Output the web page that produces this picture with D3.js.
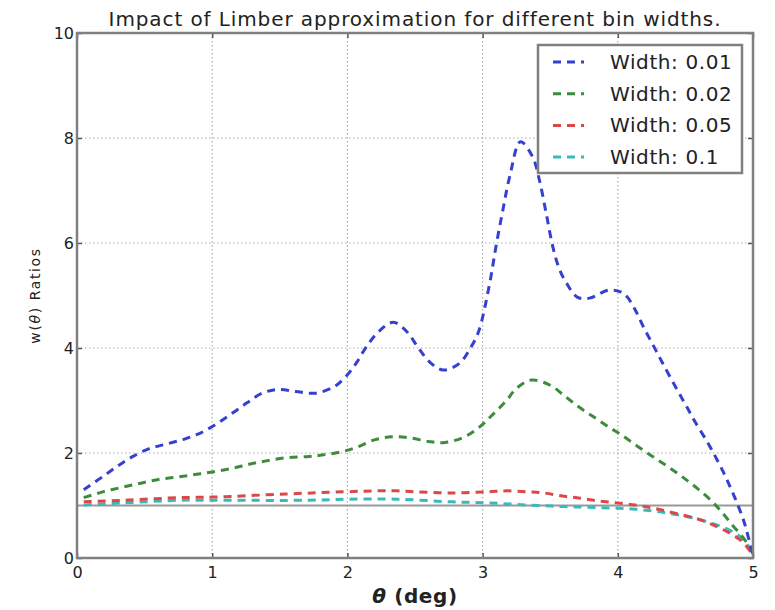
<!DOCTYPE html>
<html>
<head>
<meta charset="utf-8">
<script src="https://cdn.jsdelivr.net/npm/d3@7"></script>
<style>
  body { margin: 0; background: #fff; }
  text { font-family: "DejaVu Sans", sans-serif; fill: #222; }
</style>
</head>
<body>
<div id="chart"></div>
<script>
var svgWidth = 775;
var svgHeight = 610;

var margin = { top: 33, right: 22, bottom: 52, left: 77 };
var width = svgWidth - margin.left - margin.right;
var height = svgHeight - margin.top - margin.bottom;

// data
var seriesNames = ["Width: 0.01", "Width: 0.02", "Width: 0.05", "Width: 0.1"];
var seriesColors = ["#3440d0", "#3d8c3d", "#dc4848", "#38baba"];

var thetaW001 = [0.05,0.19,0.30,0.41,0.53,0.66,0.80,0.92,1.03,1.15,1.26,1.37,1.49,1.62,1.76,1.90,2.0,2.07,2.14,2.23,2.34,2.44,2.52,2.61,2.71,2.83,2.91,2.97,3.05,3.10,3.15,3.20,3.28,3.37,3.42,3.47,3.52,3.57,3.62,3.70,3.79,3.93,4.02,4.07,4.13,4.19,4.26,4.33,4.44,4.51,4.57,4.66,4.72,4.78,4.83,4.88,4.93,4.96,5.0];
var ratioW001 = [1.3,1.55,1.75,1.93,2.08,2.17,2.27,2.39,2.55,2.76,2.96,3.14,3.21,3.17,3.14,3.26,3.49,3.73,4.02,4.31,4.49,4.31,4.02,3.73,3.58,3.71,4.0,4.31,5.2,5.95,6.63,7.26,7.93,7.64,7.2,6.57,5.92,5.49,5.24,4.97,4.95,5.10,5.07,4.97,4.72,4.40,4.06,3.72,3.2,2.88,2.6,2.22,1.94,1.64,1.36,1.06,0.72,0.45,0.05];

var thetaW002 = [0.05,0.19,0.34,0.48,0.61,0.74,0.87,1.0,1.15,1.28,1.40,1.55,1.70,1.81,1.95,2.07,2.20,2.33,2.46,2.60,2.72,2.86,2.98,3.07,3.17,3.25,3.36,3.50,3.60,3.71,3.82,3.93,4.03,4.15,4.26,4.37,4.48,4.59,4.70,4.78,4.85,4.92,4.98,5.0];
var ratioW002 = [1.15,1.26,1.35,1.43,1.50,1.54,1.59,1.64,1.71,1.79,1.85,1.91,1.93,1.96,2.02,2.11,2.25,2.31,2.29,2.22,2.2,2.3,2.5,2.72,2.98,3.23,3.39,3.29,3.10,2.88,2.69,2.5,2.34,2.12,1.93,1.74,1.54,1.32,1.07,0.84,0.62,0.41,0.2,0.1];

var thetaW005 = [0.05,0.35,0.76,1.0,1.55,1.97,2.23,2.36,2.50,2.77,3.04,3.18,3.33,3.45,3.59,3.72,3.85,3.99,4.13,4.26,4.38,4.51,4.62,4.74,4.85,4.93,5.0];
var ratioW005 = [1.07,1.1,1.15,1.16,1.22,1.26,1.28,1.28,1.26,1.24,1.26,1.28,1.26,1.24,1.18,1.14,1.09,1.05,1.01,0.95,0.88,0.80,0.72,0.59,0.44,0.29,0.05];

var thetaW01 = [0.05,0.35,0.76,1.0,1.7,2.0,2.36,2.77,3.04,3.33,3.6,3.87,4.13,4.38,4.62,4.85,4.95,5.0];
var ratioW01 = [1.01,1.05,1.1,1.1,1.1,1.12,1.12,1.07,1.05,1.01,0.98,0.96,0.93,0.85,0.72,0.5,0.29,0.05];

var xTicks = [0, 1, 2, 3, 4, 5];
var yTicks = [0, 2, 4, 6, 8, 10];

var allTheta = [thetaW001, thetaW002, thetaW005, thetaW01];
var allRatio = [ratioW001, ratioW002, ratioW005, ratioW01];

var series = seriesNames.map(function (name, i) {
    return {
        name: name,
        color: seriesColors[i],
        points: allTheta[i].map(function (t, j) { return { theta: t, ratio: allRatio[i][j] }; })
    };
});

var svg = d3.select("#chart")
    .append("svg")
    .attr("width", svgWidth)
    .attr("height", svgHeight);

var chartGroup = svg.append("g")
    .attr("transform", `translate(${margin.left}, ${margin.top})`);

var xScale = d3.scaleLinear().domain([0, 5]).range([0, width]);
var yScale = d3.scaleLinear().domain([0, 10]).range([height, 0]);

// dotted grid
chartGroup.append("g")
    .selectAll("line")
    .data(xTicks.slice(1, -1))
    .enter().append("line")
    .attr("x1", d => xScale(d)).attr("x2", d => xScale(d))
    .attr("y1", 0).attr("y2", height)
    .attr("stroke", "#aaa").attr("stroke-width", 1.2)
    .attr("stroke-dasharray", "1.5,2.5");

chartGroup.append("g")
    .selectAll("line")
    .data(yTicks.slice(1, -1))
    .enter().append("line")
    .attr("x1", 0).attr("x2", width)
    .attr("y1", d => yScale(d)).attr("y2", d => yScale(d))
    .attr("stroke", "#aaa").attr("stroke-width", 1.2)
    .attr("stroke-dasharray", "1.5,2.5");

// reference line at ratio 1
chartGroup.append("line")
    .attr("x1", 0).attr("x2", width)
    .attr("y1", yScale(1)).attr("y2", yScale(1))
    .attr("stroke", "#999").attr("stroke-width", 2.2);

var line = d3.line()
    .x(d => xScale(d.theta))
    .y(d => yScale(d.ratio))
    .curve(d3.curveCatmullRom.alpha(0.5));

chartGroup.selectAll(".series")
    .data(series.slice().reverse())
    .enter().append("path")
    .attr("class", "series")
    .attr("d", d => line(d.points))
    .attr("fill", "none")
    .attr("stroke", d => d.color)
    .attr("stroke-width", 3)
    .attr("stroke-dasharray", "8,6");

// axes with inward ticks on all four sides
function styleAxis(g) {
    g.select(".domain").remove();
    g.selectAll(".tick line").attr("stroke", "#555").attr("stroke-width", 1.5);
    g.selectAll(".tick text").style("font-size", "16px").attr("fill", "#222");
}

chartGroup.append("g")
    .attr("transform", `translate(0, ${height})`)
    .call(d3.axisBottom(xScale).tickValues(xTicks).tickSize(-5).tickPadding(9).tickFormat(d3.format("d")))
    .call(styleAxis);

chartGroup.append("g")
    .call(d3.axisTop(xScale).tickValues(xTicks).tickSize(-5).tickFormat(""))
    .call(styleAxis);

chartGroup.append("g")
    .call(d3.axisLeft(yScale).tickValues(yTicks).tickSize(-5).tickPadding(3).tickFormat(d3.format("d")))
    .call(styleAxis);

chartGroup.append("g")
    .attr("transform", `translate(${width}, 0)`)
    .call(d3.axisRight(yScale).tickValues(yTicks).tickSize(-5).tickFormat(""))
    .call(styleAxis);

// frame
chartGroup.append("rect")
    .attr("x", 0).attr("y", 0)
    .attr("width", width).attr("height", height)
    .attr("fill", "none")
    .attr("stroke", "#808080")
    .attr("stroke-width", 2.5);

// title and labels
svg.append("text")
    .attr("x", margin.left + width / 2)
    .attr("y", 26)
    .attr("text-anchor", "middle")
    .style("font-size", "20px")
    .style("letter-spacing", "0.9px")
    .text("Impact of Limber approximation for different bin widths.");

var xLabel = svg.append("text")
    .attr("x", margin.left + width / 2)
    .attr("y", 603)
    .attr("text-anchor", "middle")
    .style("font-size", "20px")
    .style("font-weight", "bold")
    .style("letter-spacing", "0.6px");
xLabel.append("tspan").style("font-style", "italic").text("θ");
xLabel.append("tspan").text(" (deg)");

var yLabel = svg.append("text")
    .attr("transform", `translate(40, ${margin.top + height / 2}) rotate(-90)`)
    .attr("text-anchor", "middle")
    .style("font-size", "14px")
    .style("letter-spacing", "1.6px");
yLabel.append("tspan").text("w(");
yLabel.append("tspan").style("font-style", "italic").text("θ");
yLabel.append("tspan").text(") Ratios");

// legend
var legendX = 538, legendY = 45, legendW = 204, legendH = 128;
var legend = svg.append("g");
legend.append("rect")
    .attr("x", legendX).attr("y", legendY)
    .attr("width", legendW).attr("height", legendH)
    .attr("fill", "#fff")
    .attr("stroke", "#808080")
    .attr("stroke-width", 2.5);

var legendRows = legend.selectAll(".row")
    .data(series)
    .enter().append("g")
    .attr("class", "row")
    .attr("transform", (d, i) => `translate(${legendX}, ${legendY + 17 + i * 31.7})`);

legendRows.append("line")
    .attr("x1", 15).attr("x2", 46)
    .attr("y1", 0).attr("y2", 0)
    .attr("stroke", d => d.color)
    .attr("stroke-width", 3)
    .attr("stroke-dasharray", "8,6");

legendRows.append("text")
    .attr("x", 72).attr("y", 7)
    .style("font-size", "20px")
    .style("letter-spacing", "0.6px")
    .text(d => d.name);
</script>
</body>
</html>
